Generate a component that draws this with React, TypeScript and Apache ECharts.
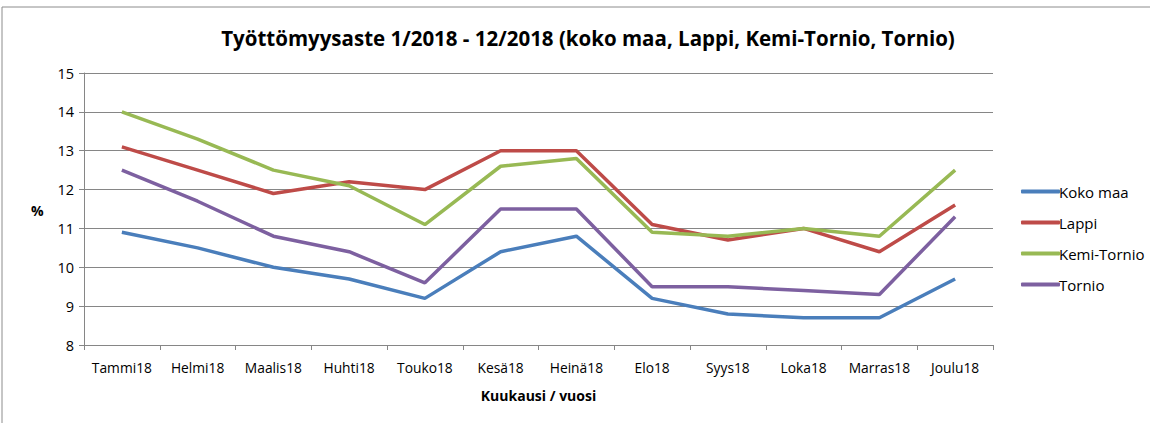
import React, { useEffect, useRef } from "react";
import * as echarts from "echarts";

const categories = ["Tammi18", "Helmi18", "Maalis18", "Huhti18", "Touko18", "Kesä18", "Heinä18", "Elo18", "Syys18", "Loka18", "Marras18", "Joulu18"];
const kokoMaa = [10.9, 10.5, 10.0, 9.7, 9.2, 10.4, 10.8, 9.2, 8.8, 8.7, 8.7, 9.7];
const lappi = [13.1, 12.5, 11.9, 12.2, 12.0, 13.0, 13.0, 11.1, 10.7, 11.0, 10.4, 11.6];
const kemiTornio = [14.0, 13.3, 12.5, 12.1, 11.1, 12.6, 12.8, 10.9, 10.8, 11.0, 10.8, 12.5];
const tornio = [12.5, 11.7, 10.8, 10.4, 9.6, 11.5, 11.5, 9.5, 9.5, 9.4, 9.3, 11.3];
const seriesNames = ["Koko maa", "Lappi", "Kemi-Tornio", "Tornio"];
const colors = ["#4A7EBB", "#BE4B48", "#98B954", "#7D60A0"];

const FONT = "'Open Sans', sans-serif";

export default function App() {
  const ref = useRef<HTMLDivElement>(null);
  useEffect(() => {
    document.body.style.margin = "0";
    const chart = echarts.init(ref.current!, undefined, { renderer: "svg" });
    const data = [kokoMaa, lappi, kemiTornio, tornio];
    chart.setOption({
      animation: false,
      backgroundColor: "#ffffff",
      title: {
        text: "Työttömyysaste 1/2018 - 12/2018 (koko maa, Lappi, Kemi-Tornio, Tornio)",
        left: 583,
        top: 22,
        textAlign: "center",
        textStyle: { fontFamily: FONT, fontSize: 20.5, fontWeight: "bold", color: "#000" },
      },
      graphic: [
        {
          type: "rect",
          shape: { x: 2, y: 7, width: 1200, height: 500 },
          style: { fill: "none", stroke: "#8c8c8c", lineWidth: 1 },
          silent: true,
        },
        {
          type: "text",
          left: 31,
          top: 203,
          style: { text: "%", fontFamily: FONT, fontSize: 14, fontWeight: "bold", fill: "#000" },
        },
      ],
      legend: {
        orient: "vertical",
        left: 1016,
        top: 179,
        itemGap: 16,
        itemWidth: 39,
        itemHeight: 4,
        icon: "roundRect",
        textStyle: { fontFamily: FONT, fontSize: 15, color: "#000", padding: [0, 0, 0, -6] },
        data: seriesNames,
      },
      grid: { left: 84, right: 157, top: 73, bottom: 78 },
      xAxis: {
        type: "category",
        data: categories,
        boundaryGap: true,
        name: "Kuukausi / vuosi",
        nameLocation: "middle",
        nameGap: 43,
        nameTextStyle: { fontFamily: FONT, fontSize: 14, fontWeight: "bold", color: "#000" },
        axisLine: { lineStyle: { color: "#868686", width: 1 } },
        axisTick: { show: true, length: 5, lineStyle: { color: "#868686" } },
        axisLabel: { fontFamily: FONT, fontSize: 13.8, color: "#000", margin: 15, interval: 0 },
      },
      yAxis: {
        type: "value",
        min: 8,
        max: 15,
        interval: 1,
        axisLine: { show: true, lineStyle: { color: "#868686", width: 1 } },
        axisTick: { show: true, length: 5, lineStyle: { color: "#868686" } },
        axisLabel: { fontFamily: FONT, fontSize: 14.5, color: "#000", margin: 10 },
        splitLine: { lineStyle: { color: "#868686", width: 1 } },
      },
      series: seriesNames.map((name, i) => ({
        name,
        type: "line",
        data: data[i],
        symbol: "none",
        lineStyle: { color: colors[i], width: 3.5 },
        itemStyle: { color: colors[i] },
      })),
    });
    return () => chart.dispose();
  }, []);
  return <div ref={ref} style={{ width: 1150, height: 423 }} />;
}
